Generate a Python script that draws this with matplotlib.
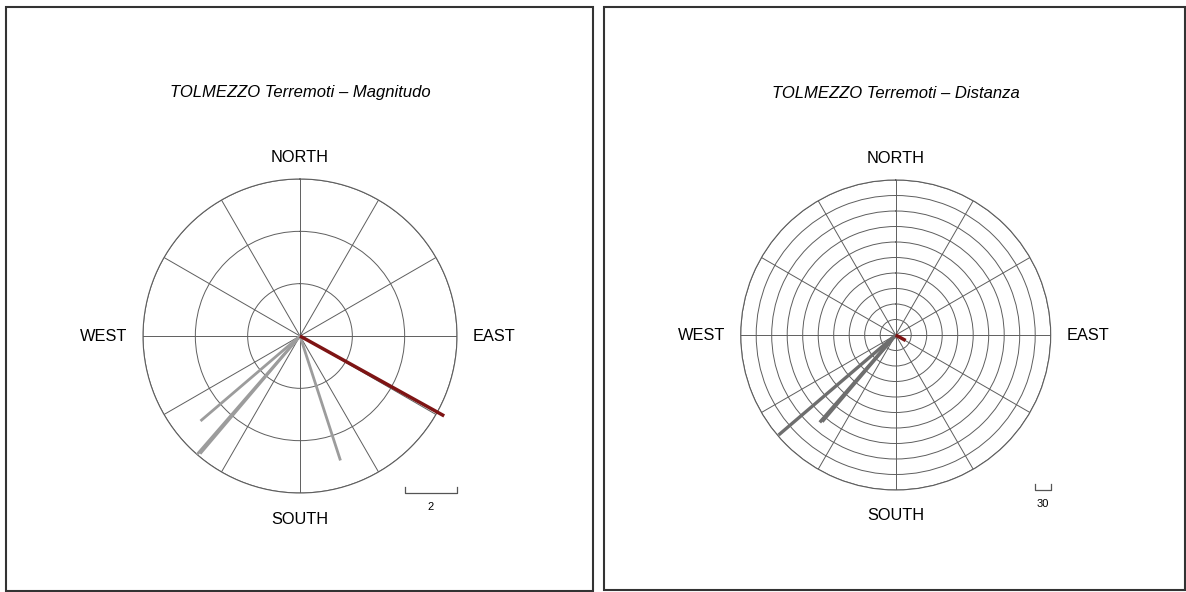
import numpy as np
import matplotlib
matplotlib.use("Agg")
import matplotlib.pyplot as plt
from matplotlib.patches import Rectangle

plt.rcParams['font.family'] = ['Liberation Sans', 'DejaVu Sans']

# Events seen from Tolmezzo: bearing (deg from north), magnitude, distance (km)
bearings = [229.5, 221.0, 220.3, 162.0]
magnitudes = [5.0, 6.0, 5.9, 5.0]
distances = [298, 224, 220, 6]

# Highlighted event
main_bearing = 119.0
main_magnitude = 6.3
main_distance = 22

station = "TOLMEZZO"
titles = [f"{station} Terremoti \u2013 Magnitudo", f"{station} Terremoti \u2013 Distanza"]
ring_steps = [2, 30]
ring_max = [6, 300]
compass = ["NORTH", "SOUTH", "WEST", "EAST"]

W, H = 1186, 592
fig = plt.figure(figsize=(W / 100, H / 100), dpi=100)
fig.patch.set_facecolor("white")


def frac_rect(x0, y0, x1, y1):
    """Pixel box (top-left origin) to figure fraction rect."""
    return [x0 / W, 1 - y1 / H, (x1 - x0) / W, (y1 - y0) / H]


# panel frames
for (x0, y0, x1, y1) in [(6, 7, 593, 591), (604, 7, 1185, 590)]:
    fig.add_artist(Rectangle((x0 / W, 1 - y1 / H), (x1 - x0) / W, (y1 - y0) / H,
                             transform=fig.transFigure, fill=False,
                             edgecolor="#333333", lw=1.5))

panels = [
    dict(center=(300, 336), radius=157, values=magnitudes, main=main_magnitude,
         gray="#9c9c9c", glw=2.0),
    dict(center=(895.7, 335), radius=155, values=distances, main=main_distance,
         gray="#6e6e6e", glw=2.4),
]

grid_color = "#5e5e5e"

for i, p in enumerate(panels):
    cx, cy = p["center"]
    R = p["radius"]
    ax = fig.add_axes(frac_rect(cx - R, cy - R, cx + R, cy + R), projection="polar")
    ax.set_theta_zero_location("N")
    ax.set_theta_direction(-1)
    step, rmax = ring_steps[i], ring_max[i]
    ax.set_rlim(0, rmax)
    ax.set_rticks(np.arange(step, rmax + step / 2, step))
    ax.set_yticklabels([])
    ax.set_thetagrids(np.arange(0, 360, 30), labels=[])
    ax.grid(True, color=grid_color, lw=0.7)
    ax.spines["polar"].set_color(grid_color)
    ax.spines["polar"].set_linewidth(0.8)
    ax.tick_params(length=0)

    for b, v in zip(bearings, p["values"]):
        t = np.deg2rad(b)
        ax.plot([t, t], [0, v], color=p["gray"], lw=p["glw"], clip_on=False,
                solid_capstyle="butt", zorder=3)
    t = np.deg2rad(main_bearing)
    ax.plot([t, t], [0, p["main"]], color="#7e1414", lw=2.5, clip_on=False,
            solid_capstyle="butt", zorder=4)

    # compass labels
    fs = 11.8
    ax.text(0.5, 1.068, compass[0], transform=ax.transAxes, ha="center", va="center", fontsize=fs)
    ax.text(0.5, -0.083, compass[1], transform=ax.transAxes, ha="center", va="center", fontsize=fs)
    ax.text(-0.125, 0.497, compass[2], transform=ax.transAxes, ha="center", va="center", fontsize=fs)
    ax.text(1.119, 0.497, compass[3], transform=ax.transAxes, ha="center", va="center", fontsize=fs)

    # scale bar: one ring step long
    L = 0.5 * step / rmax
    xb = [1.0 - L, 1.0 - L, 1.0, 1.0]
    yb = [0.019, 0.0, 0.0, 0.019]
    ax.plot(xb, yb, transform=ax.transAxes, color="#555555", lw=0.9, clip_on=False)
    ax.text(1.0 - L / 2, -0.045, str(step), transform=ax.transAxes, ha="center",
            va="center", fontsize=8)

    # title
    fig.text(cx / W, 1 - 93 / H, titles[i], ha="center", va="center",
             fontsize=12, style="italic")

fig.savefig("out.png", dpi=100)
